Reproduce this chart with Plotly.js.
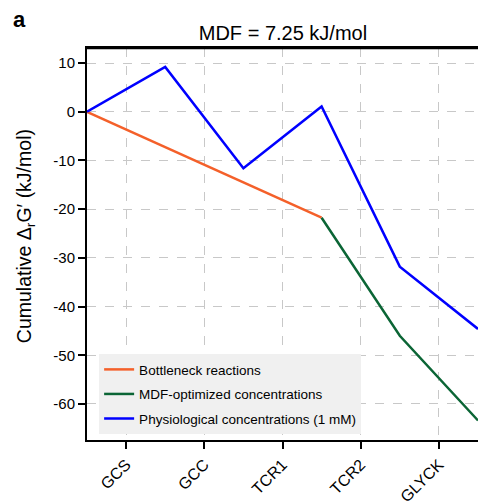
<!DOCTYPE html>
<html>
<head>
<meta charset="utf-8">
<script src="https://cdn.plot.ly/plotly-3.0.1.min.js"></script>
<style>html,body{margin:0;padding:0;background:#fff;}#chart{width:478px;height:504px;}</style>
</head>
<body>
<div id="chart"></div>
<script>
// Reactions (x categories)
const reactions = ["GCS", "GCC", "TCR1", "TCR2", "GLYCK"];
// Cumulative ΔrG' at step edges (start, then after each reaction)
const bottleneckIdx = [0, 1, 2, 3];
const bottleneckVals = [0, -7.25, -14.5, -21.75];
const optimizedIdx = [3, 4, 5];
const optimizedVals = [-21.75, -46.0, -63.4];
const physioIdx = [0, 1, 2, 3, 4, 5];
const physioVals = [0, 9.2, -11.6, 1.1, -31.8, -44.6];
const yTicks = [10, 0, -10, -20, -30, -40, -50, -60];

const edge = idx => idx.map(i => i - 0.5);
const font = "Liberation Sans, Arial, sans-serif";

const traces = [
  {x: edge(bottleneckIdx), y: bottleneckVals, mode: "lines", name: "Bottleneck reactions", legendgroup: "a",
   line: {color: "#f4602a", width: 2.5}},
  {x: edge(optimizedIdx), y: optimizedVals, mode: "lines", name: "MDF-optimized concentrations", legendgroup: "b",
   line: {color: "#0b6535", width: 2.5}},
  {x: edge(physioIdx), y: physioVals, mode: "lines", name: "Physiological concentrations (1 mM)", legendgroup: "c",
   line: {color: "#0000ff", width: 2.5}},
  {x: edge(physioIdx), y: physioVals, xaxis: "x2", mode: "lines", showlegend: false, hoverinfo: "skip",
   line: {color: "rgba(0,0,0,0)", width: 0}}
];

const layout = {
  width: 478, height: 504,
  margin: {l: 87, r: 0, t: 48, b: 64},
  paper_bgcolor: "#fff", plot_bgcolor: "#fff",
  font: {family: font, color: "#000", size: 15},
  title: {text: "MDF = 7.25 kJ/mol", font: {size: 20, family: font}, x: 0.592, xanchor: "center", y: 0.934, yanchor: "middle"},
  showlegend: true,
  legend: {x: 0.031, y: 0.015, xanchor: "left", yanchor: "bottom", bgcolor: "#f0f0f0", borderwidth: 0,
           font: {size: 13.5, family: font}, tracegroupgap: 4, itemwidth: 30},
  xaxis: {
    range: [-0.5, 4.5], tickmode: "array", tickvals: reactions.map((_, i) => i), ticktext: reactions,
    tickangle: -45, ticks: "outside", ticklen: 7, tickwidth: 2, tickcolor: "#000",
    showline: true, linecolor: "#000", linewidth: 2,
    showgrid: true, gridcolor: "#c8c8c8", griddash: "dash", gridwidth: 1,
    zeroline: false, tickfont: {size: 16}
  },
  xaxis2: {
    range: [-0.5, 4.5], overlaying: "x", side: "top", anchor: "y",
    showline: true, linecolor: "#000", linewidth: 2.5,
    showgrid: false, zeroline: false, ticks: "", showticklabels: false
  },
  yaxis: {
    range: [-67.4, 13.1], tickmode: "array", tickvals: yTicks, ticktext: yTicks.map(String),
    ticks: "outside", ticklen: 7, tickwidth: 2, tickcolor: "#000",
    showline: true, linecolor: "#000", linewidth: 2,
    showgrid: true, gridcolor: "#c8c8c8", griddash: "dash", gridwidth: 1,
    zeroline: false, tickfont: {size: 15}
  },
  shapes: [
    {type: "rect", xref: "paper", yref: "paper", x0: -0.003, x1: 1, y0: 0.997, y1: 1.003, layer: "above",
     fillcolor: "#000000", line: {width: 0}}
  ],
  annotations: [
    {text: "<b>a</b>", xref: "paper", yref: "paper", x: -0.2, y: 1.09, xanchor: "left", yanchor: "middle",
     showarrow: false, font: {size: 22, family: font}, xshift: 2, yshift: -7},
    {text: "Cumulative Δ<sub>r</sub>G′ (kJ/mol)", xref: "paper", yref: "paper",
     x: -0.1586, y: 0.520, xanchor: "center", yanchor: "middle", textangle: -90,
     showarrow: false, font: {size: 19.5, family: font}}
  ]
};

Plotly.newPlot("chart", traces, layout, {displayModeBar: false, staticPlot: true});
</script>
</body>
</html>
